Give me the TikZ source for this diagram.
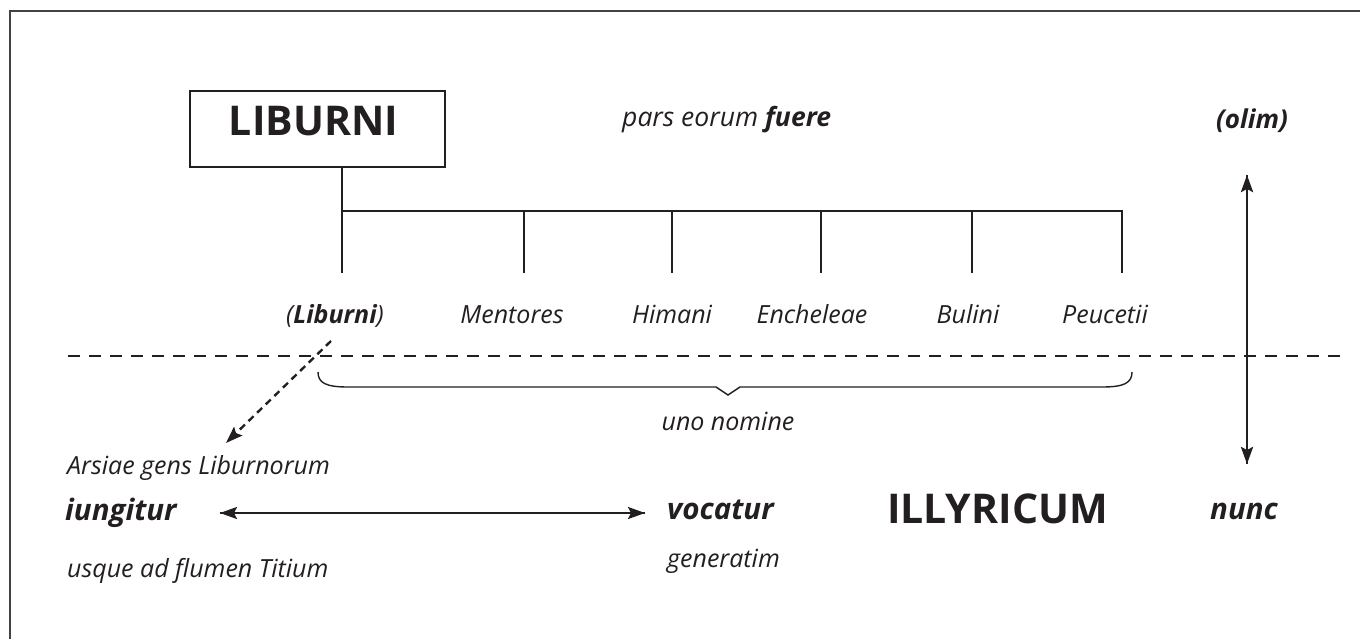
\documentclass[tikz,border=0pt]{standalone}
\usepackage{fontspec}
\setmainfont{Open Sans}
\usetikzlibrary{arrows.meta}
\definecolor{ink}{HTML}{231F20}
\tikzset{
  line/.style={draw=ink, line width=2.9pt},
  dashline/.style={line, dash pattern=on 12pt off 9pt},
  tip/.style={-{Stealth[length=17pt,width=12pt,inset=3pt]}},
  bigcaps/.style={font=\fontsize{41}{46}\selectfont\bfseries, text=ink, inner sep=0pt},
  lab/.style={font=\fontsize{25}{29}\selectfont\itshape, text=ink, inner sep=0pt},
  key/.style={font=\fontsize{29.5}{33}\selectfont\bfseries\itshape, text=ink, inner sep=0pt},
}
\begin{document}
\begin{tikzpicture}[x=1pt, y=-1pt]
\useasboundingbox (0,0) rectangle (1360,639);
% frame
\draw[draw=ink!85, line width=2pt] (10,639) -- (10,11) -- (1360,11);

% title box
\node[line, minimum width=255pt, minimum height=76pt, inner sep=0pt] (box) at (317.5,129) {};
\node[bigcaps, anchor=base] (lib) at (313.5,136) {LIBURNI};

\node[lab, anchor=base west, font=\fontsize{26.5}{30}\selectfont\itshape] (pars) at (622,127) {pars eorum \textbf{fuere}};
\node[lab, anchor=base, font=\fontsize{26}{30}\selectfont\bfseries\itshape] (olim) at (1252,129) {(olim)};

% branches
\coordinate (b0) at (342,167);
\coordinate (h0) at (342,211);
\coordinate (h5) at (1122,211);
\foreach \i/\x in {0/342,1/524,2/672,3/821,4/972,5/1122}{
  \coordinate (t\i) at (\x,211);
  \coordinate (e\i) at (\x,273);
  \draw[line] (t\i) -- (e\i);
}
\draw[line] (b0) -- (h0);
\draw[line, line cap=rect] (h0) -- (h5);

% peoples
\node[lab, anchor=base] (n0) at (335,323) {(\textbf{Liburni})};
\node[lab, anchor=base] (n1) at (512,323) {Mentores};
\node[lab, anchor=base] (n2) at (672,323) {Himani};
\node[lab, anchor=base] (n3) at (812,323) {Encheleae};
\node[lab, anchor=base] (n4) at (968,323) {Bulini};
\node[lab, anchor=base] (n5) at (1105,323) {Peucetii};

% time divider
\coordinate (dl) at (68,356);
\coordinate (dr) at (1345,356);
\draw[dashline] (dl) -- (dr);

% brace under the peoples
\coordinate (bl) at (318,372);
\coordinate (bm) at (728,395);
\coordinate (br) at (1132,372);
\draw[draw=ink, line width=1.4pt, line join=miter]
  (bl) .. controls (318,383) and (326,387) .. (348,387) -- (716,387) -- (bm)
  -- (740,387) -- (1102,387) .. controls (1124,387) and (1132,383) .. (br);
\node[lab, anchor=base] (uno) at (728,430) {uno nomine};

% olim / nunc axis
\coordinate (ot) at (1247,175);
\coordinate (ob) at (1247,464);
\draw[line, tip] (ob) -- (ot);
\draw[line, tip] (ot) -- (ob);

% lower block
\node[lab, anchor=base west] (ars) at (67,474) {Arsiae gens Liburnorum};
\node[key, anchor=base west] (iun) at (65,520) {iungitur};
\node[lab, anchor=base west] (usq) at (67,577) {usque ad flumen Titium};
\node[key, anchor=base west] (voc) at (667,519) {vocatur};
\node[lab, anchor=base west] (gen) at (667,567) {generatim};
\node[bigcaps, anchor=base west] (ill) at (887,523) {ILLYRICUM};
\node[key, anchor=base west] (nun) at (1210,519) {nunc};

% links
\coordinate (ds) at (331,341);
\coordinate (de) at (226,443);
\draw[line, line width=2.4pt, dash pattern=on 7pt off 5pt, tip] (ds) -- (de);
\coordinate (al) at (220,513);
\coordinate (ar) at (645,513);
\draw[line, line width=2.4pt, tip] (ar) -- (al);
\draw[line, line width=2.4pt, tip] (al) -- (ar);
\end{tikzpicture}
\end{document}
